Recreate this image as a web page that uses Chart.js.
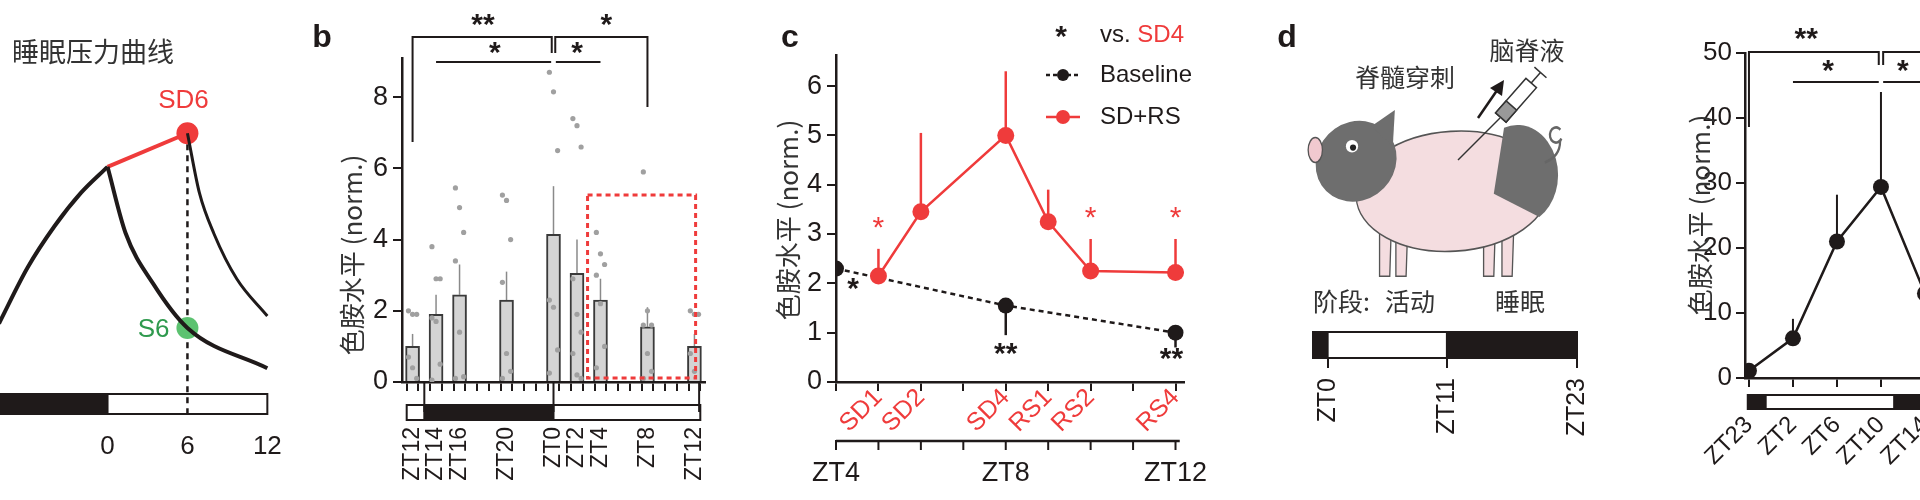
<!DOCTYPE html>
<html>
<head>
<meta charset="utf-8">
<script src="https://cdn.jsdelivr.net/npm/chart.js@4.4.1/dist/chart.umd.min.js"></script>
<style>
  html, body { margin: 0; padding: 0; background: #fff; overflow: hidden; width: 1920px; height: 500px; }
  canvas { position: absolute; left: 0; top: 0; }
  #chartA { left: -12px; }
</style>
</head>
<body>
<canvas id="chartA" width="1920" height="500"></canvas>
<canvas id="chartB" width="1920" height="500"></canvas>
<canvas id="chartC" width="1920" height="500"></canvas>
<canvas id="chartD" width="1920" height="500"></canvas>
<canvas id="chartE" width="2200" height="500"></canvas>
<script>
// ---- panel a: sleep pressure curves (hours, arbitrary pressure units)
const aWakeHours = [-8.15, -6, -4, -2, 0];
const aWakeP = [2.4, 3.9, 5.0, 5.9, 6.6];
const aSleepHours = [0, 1.36, 3.4, 6, 12];
const aSleepP = [6.6, 4.82, 3.48, 2.28, 1.2];
const aSdHours = [0, 6];
const aSdP = [6.6, 7.5];
const aRecHours = [6, 6.9, 8, 9.7, 12];
const aRecP = [7.5, 5.9, 4.8, 3.6, 2.6];
const aTicks = [0, 6, 12];
const aDark = [-8.15, 0];
const aLight = [0, 12];

// ---- panel b: bars, hours counted from ZT12
const bHours = [0, 2, 4, 8, 12, 14, 16, 20, 24];
const bLabels = ["ZT12", "ZT14", "ZT16", "ZT20", "ZT0", "ZT2", "ZT4", "ZT8", "ZT12"];
const bMeans = [1.0, 1.9, 2.45, 2.3, 4.15, 3.05, 2.3, 1.55, 1.0];
const bErrTop = [1.35, 2.45, 3.3, 3.1, 5.5, 4.0, 2.9, 2.1, 1.35];
const bDots = [
  [2.0, 1.9, 1.9, 0.7, 0.4, 0.1],
  [3.8, 2.9, 2.9, 1.8, 1.7, 0.5, 0.05],
  [5.45, 4.9, 4.2, 3.4, 1.4, 0.15, 0.1],
  [5.25, 5.1, 4.0, 2.8, 0.8, 0.3, 0.1],
  [8.7, 8.15, 6.5, 2.3, 2.1, 0.9, 0.25],
  [7.4, 7.2, 6.6, 2.9, 1.9, 1.4, 0.8, 0.2, 0.1],
  [4.2, 3.6, 3.3, 3.0, 2.2, 1.0, 0.4],
  [5.9, 2.0, 1.6, 1.6, 0.8, 0.3, 0.1],
  [2.0, 1.9, 1.9, 0.8, 0.3]
];
const bYTicks = [0, 2, 4, 6, 8];
const bDark = [1, 12];
const bLight = [[-0.5, 1], [12, 24.5]];

// ---- panel c
const cBaseHours = [4, 8, 12];
const cBase = [2.3, 1.55, 1.0];
const cBaseErrLow = [2.3, 0.95, 0.7];
const cSdHours = [5, 6, 8, 9, 10, 12];
const cSdLabels = ["SD1", "SD2", "SD4", "RS1", "RS2", "RS4"];
const cSd = [2.15, 3.45, 5.0, 3.25, 2.25, 2.22];
const cSdErrTop = [2.7, 5.05, 6.3, 3.9, 2.9, 2.9];
const cZtHours = [4, 8, 12];
const cZtLabels = ["ZT4", "ZT8", "ZT12"];

// ---- panel d
const dTicks = [0, 11, 23];
const dTickLabels = ["ZT0", "ZT11", "ZT23"];
const dDark = [[-1.35, 0], [11, 23]];
const dLight = [0, 11];

// ---- panel e
const eLabels = ["ZT23", "ZT2", "ZT6", "ZT10", "ZT14"];
const eValues = [1.1, 6.1, 21.0, 29.4, 13.0];
const eErrTop = [1.1, 9.1, 28.2, 44.0, 16.0];
const eYTicks = [0, 10, 20, 30, 40, 50];
const eDark = [[-0.05, 0.38], [3.3, 6]];
const eLight = [0.38, 3.3];

const FONT = '"Liberation Sans", Arial, "Noto Sans CJK SC", sans-serif';
const CJK = '"Noto Sans CJK SC", "Liberation Sans", sans-serif';
const RED = "#ef3b3b";
const INK = "#1f1a1a";

Chart.defaults.font.family = FONT;
Chart.defaults.color = INK;
Chart.defaults.animation = false;
Chart.defaults.devicePixelRatio = 1;
Chart.defaults.plugins.legend.display = false;
Chart.defaults.plugins.tooltip.enabled = false;

function fixW(w) { return (s) => { s.width = w; }; }
function fixH(h) { return (s) => { s.height = h; }; }
function setTicks(list) { return (s) => { s.ticks = list.map((v) => ({ value: v })); }; }

function text(ctx, str, x, y, opt) {
  ctx.save();
  ctx.font = opt.font;
  ctx.fillStyle = opt.color || INK;
  ctx.textAlign = opt.align || "center";
  ctx.textBaseline = "middle";
  if (opt.rot) {
    ctx.translate(x, y);
    ctx.rotate(opt.rot);
    ctx.fillText(str, 0, 0);
  } else ctx.fillText(str, x, y);
  ctx.restore();
}

function line(ctx, pts, w, color, dash) {
  ctx.save();
  ctx.strokeStyle = color || INK;
  ctx.lineWidth = w;
  ctx.setLineDash(dash || []);
  ctx.beginPath();
  pts.forEach((p, i) => (i ? ctx.lineTo(p[0], p[1]) : ctx.moveTo(p[0], p[1])));
  ctx.stroke();
  ctx.restore();
}

function ldBar(ctx, x, dark, light, top, bot) {
  ctx.save();
  ctx.lineWidth = 2;
  ctx.strokeStyle = INK;
  ctx.fillStyle = "#fff";
  light.forEach((s) => {
    const a = x.getPixelForValue(s[0]), b = x.getPixelForValue(s[1]);
    ctx.fillRect(a, top, b - a, bot - top);
    ctx.strokeRect(a, top, b - a, bot - top);
  });
  ctx.fillStyle = INK;
  dark.forEach((s) => {
    const a = x.getPixelForValue(s[0]), b = x.getPixelForValue(s[1]);
    ctx.fillRect(a, top - 1, b - a, bot - top + 2);
  });
  ctx.restore();
}

function pts(xs, ys) { return xs.map((x, i) => ({ x: x, y: ys[i] })); }

// ================= panel a
new Chart(document.getElementById("chartA"), {
  type: "scatter",
  data: {
    datasets: [
      { data: pts(aWakeHours, aWakeP), showLine: true, borderColor: INK, borderWidth: 4, pointRadius: 0, cubicInterpolationMode: "monotone" },
      { data: pts(aSleepHours, aSleepP), showLine: true, borderColor: INK, borderWidth: 4, pointRadius: 0, cubicInterpolationMode: "monotone" },
      { data: pts(aRecHours, aRecP), showLine: true, borderColor: INK, borderWidth: 3, pointRadius: 0, cubicInterpolationMode: "monotone" },
      { data: pts(aSdHours, aSdP), showLine: true, borderColor: RED, borderWidth: 4, pointRadius: 0 },
      { data: [{ x: aSdHours[1], y: aSdP[1] }], pointRadius: 11, backgroundColor: RED, borderWidth: 0 },
      { data: [{ x: aSleepHours[3], y: aSleepP[3] }], pointRadius: 11, backgroundColor: "#5cc270", borderWidth: 0 }
    ]
  },
  options: {
    responsive: false,
    layout: { padding: { left: 0, right: 1920 - 282, top: 40, bottom: 37 } },
    scales: {
      x: {
        type: "linear", min: -8.15, max: 12.2,
        afterBuildTicks: setTicks(aTicks), afterFit: fixH(50),
        grid: { display: false }, border: { display: false },
        ticks: { font: { size: 26 }, padding: 10, maxRotation: 0 }
      },
      y: { type: "linear", min: 0, max: 10, display: false }
    }
  },
  plugins: [{
    id: "aDeco",
    beforeDatasetsDraw(chart) {
      const { ctx, scales: { x, y } } = chart;
      const px = x.getPixelForValue(aSdHours[1]);
      ldBar(ctx, x, [aDark], [aLight], 394, 414);
      line(ctx, [[px, y.getPixelForValue(aSdP[1])], [px, 416]], 2.5, INK, [6, 5]);
    },
    afterDraw(chart) {
      const { ctx, scales: { x, y } } = chart;
      text(ctx, "睡眠压力曲线", 24, 52, { font: "27px " + CJK, align: "left", color: "#333" });
      text(ctx, "SD6", x.getPixelForValue(aSdHours[1]) - 4, 101, { font: "26px " + FONT, color: RED });
      text(ctx, "S6", x.getPixelForValue(aSleepHours[3]) - 18, y.getPixelForValue(aSleepP[3]) + 2, { font: "26px " + FONT, color: "#2f9a4e", align: "right" });
    }
  }]
});

// ================= panel b
const bDotPts = [];
bDots.forEach((arr, i) => arr.forEach((v, j) => bDotPts.push({ x: bHours[i] + (j % 3 - 1) * 0.35, y: v })));

new Chart(document.getElementById("chartB"), {
  data: {
    datasets: [
      { type: "bar", data: pts(bHours, bMeans), backgroundColor: "#d4d4d4", borderColor: "#3a3a3a", borderWidth: 2, barThickness: 14, order: 2 },
      { type: "scatter", data: bDotPts, pointRadius: 2.6, backgroundColor: "#a0a0a0", borderWidth: 0, order: 1 }
    ]
  },
  options: {
    responsive: false,
    layout: { padding: { left: 352, right: 1920 - 705, top: 58, bottom: 0 } },
    scales: {
      x: {
        type: "linear", min: -0.9, max: 24.9, offset: false,
        afterBuildTicks: setTicks(Array.from({ length: 25 }, (_, i) => i)), afterFit: fixH(118),
        grid: { display: true, drawOnChartArea: false, tickLength: 9, color: INK, lineWidth: 2 },
        border: { color: INK, width: 2.5 },
        ticks: {
          font: { size: 23 }, padding: 36, minRotation: 90, maxRotation: 90, autoSkip: false,
          callback: (v) => { const i = bHours.indexOf(v); return i < 0 ? "" : bLabels[i]; }
        }
      },
      y: {
        type: "linear", min: 0, max: 9.1, afterFit: fixW(50),
        afterBuildTicks: setTicks(bYTicks),
        grid: { display: true, drawOnChartArea: false, tickLength: 9, color: INK, lineWidth: 2 },
        border: { color: INK, width: 2.5 },
        ticks: { font: { size: 27 }, padding: 5 }
      }
    }
  },
  plugins: [{
    id: "bDeco",
    beforeDatasetsDraw(chart) {
      const { ctx, scales: { x, y } } = chart;
      bHours.forEach((h, i) => {
        const px = x.getPixelForValue(h);
        line(ctx, [[px, y.getPixelForValue(bMeans[i])], [px, y.getPixelForValue(bErrTop[i])]], 1.5, "#8a8a8a");
      });
    },
    afterDraw(chart) {
      const { ctx, scales: { x, y } } = chart;
      const X = (h) => x.getPixelForValue(h);
      const y0 = y.getPixelForValue(0);
      ldBar(ctx, x, [bDark], bLight, 405, 420);
      line(ctx, [[X(1), y0], [X(1), 412]], 2, INK);
      line(ctx, [[X(12), y0], [X(12), 412]], 2, INK);
      line(ctx, [[X(24.4), y0], [X(24.4), 412]], 2, INK);
      // red dashed box around the recovery points
      ctx.save();
      ctx.strokeStyle = RED; ctx.lineWidth = 3; ctx.setLineDash([5, 4]);
      ctx.strokeRect(X(14.9), y.getPixelForValue(5.25), X(24.1) - X(14.9), y0 - 4 - y.getPixelForValue(5.25));
      ctx.restore();
      // significance brackets
      line(ctx, [[X(0), 142], [X(0), 37], [X(11.85), 37], [X(11.85), 53]], 2, INK);
      line(ctx, [[X(12.15), 53], [X(12.15), 37], [X(20), 37], [X(20), 107]], 2, INK);
      line(ctx, [[X(2), 62], [X(11.8), 62]], 2, INK);
      line(ctx, [[X(12.2), 62], [X(16), 62]], 2, INK);
      const st = { font: "bold 30px " + FONT };
      text(ctx, "**", X(6), 26, st);
      text(ctx, "*", X(7), 54, st);
      text(ctx, "*", X(14), 54, st);
      text(ctx, "*", X(16.5), 26, st);
      text(ctx, "b", 322, 38, { font: "bold 32px " + FONT });
      text(ctx, "色胺水平 (norm.)", 352, 255, { font: "26px " + CJK, rot: -Math.PI / 2, color: "#333" });
    }
  }]
});

// ================= panel c
new Chart(document.getElementById("chartC"), {
  type: "scatter",
  data: {
    datasets: [
      { data: pts(cSdHours, cSd), showLine: true, borderColor: RED, borderWidth: 2.5, pointRadius: 8.5, backgroundColor: RED, pointBorderWidth: 0 },
      { data: pts(cBaseHours, cBase), showLine: true, borderColor: INK, borderWidth: 2.5, borderDash: [5, 4], pointRadius: 8, backgroundColor: INK, pointBorderWidth: 0 }
    ]
  },
  options: {
    responsive: false,
    layout: { padding: { left: 786, top: 55, bottom: 0, right: 1920 - 1184 } },
    scales: {
      x: {
        type: "linear", min: 4, max: 12.2,
        afterBuildTicks: setTicks([4, 5, 6, 7, 8, 9, 10, 11, 12]), afterFit: fixH(118),
        grid: { display: true, drawOnChartArea: false, tickLength: 9, color: INK, lineWidth: 2 },
        border: { color: INK, width: 2.5 },
        ticks: {
          font: { size: 25 }, color: RED, padding: -8, minRotation: 45, maxRotation: 45, autoSkip: false,
          callback: (v) => { const i = cSdHours.indexOf(v); return i < 0 ? "" : cSdLabels[i]; }
        }
      },
      y: {
        type: "linear", min: 0, max: 6.63, afterFit: fixW(50),
        afterBuildTicks: setTicks([0, 1, 2, 3, 4, 5, 6]),
        grid: { display: true, drawOnChartArea: false, tickLength: 9, color: INK, lineWidth: 2 },
        border: { color: INK, width: 2.5 },
        ticks: { font: { size: 27 }, padding: 5 }
      }
    }
  },
  plugins: [{
    id: "cDeco",
    beforeDatasetsDraw(chart) {
      const { ctx, scales: { x, y } } = chart;
      cSdHours.forEach((h, i) => {
        const px = x.getPixelForValue(h);
        line(ctx, [[px, y.getPixelForValue(cSd[i])], [px, y.getPixelForValue(cSdErrTop[i])]], 2.5, RED);
      });
      cBaseHours.forEach((h, i) => {
        const px = x.getPixelForValue(h);
        line(ctx, [[px, y.getPixelForValue(cBase[i])], [px, y.getPixelForValue(cBaseErrLow[i])]], 2.5, INK);
      });
    },
    afterDraw(chart) {
      const { ctx, scales: { x, y } } = chart;
      const X = (h) => x.getPixelForValue(h);
      // second time axis
      const ly = 441;
      line(ctx, [[X(4), ly], [X(12.1), ly]], 2.5, INK);
      [4, 5, 6, 7, 8, 9, 10, 11, 12].forEach((h) => line(ctx, [[X(h), ly - 1], [X(h), ly + 9]], 2, INK));
      cZtHours.forEach((h, i) => text(ctx, cZtLabels[i], X(h), 474, { font: "27px " + FONT }));
      const st = { font: "bold 30px " + FONT };
      text(ctx, "*", X(4) + 17, 290, st);
      text(ctx, "**", X(8), 355, st);
      text(ctx, "**", X(12) - 4, 360, st);
      const sr = { font: "30px " + FONT, color: RED };
      text(ctx, "*", X(5), y.getPixelForValue(cSdErrTop[0]) - 20, sr);
      text(ctx, "*", X(10), y.getPixelForValue(cSdErrTop[4]) - 20, sr);
      text(ctx, "*", X(12), y.getPixelForValue(cSdErrTop[5]) - 20, sr);
      text(ctx, "c", 790, 38, { font: "bold 32px " + FONT });
      text(ctx, "色胺水平 (norm.)", 788, 220, { font: "26px " + CJK, rot: -Math.PI / 2, color: "#333" });
      // legend
      text(ctx, "*", 1061, 38, { font: "bold 30px " + FONT });
      ctx.save();
      ctx.font = "24px " + FONT; ctx.textBaseline = "middle"; ctx.fillStyle = INK;
      ctx.fillText("vs. ", 1100, 35);
      ctx.fillStyle = RED;
      ctx.fillText("SD4", 1100 + ctx.measureText("vs. ").width, 35);
      ctx.fillStyle = INK;
      ctx.fillText("Baseline", 1100, 75);
      ctx.fillText("SD+RS", 1100, 117);
      ctx.restore();
      line(ctx, [[1046, 75], [1080, 75]], 2.5, INK, [4, 3]);
      line(ctx, [[1046, 117], [1080, 117]], 2.5, RED);
      ctx.save();
      ctx.fillStyle = INK; ctx.beginPath(); ctx.arc(1063, 75, 6, 0, 7); ctx.fill();
      ctx.fillStyle = RED; ctx.beginPath(); ctx.arc(1063, 117, 7, 0, 7); ctx.fill();
      ctx.restore();
    }
  }]
});

// ================= panel d (schematic + phase bar)
function drawPig(ctx) {
  ctx.save();
  ctx.translate(1300, 105);
  ctx.scale(1.02, 1.25);
  ctx.translate(-1305, -129);
  ctx.lineWidth = 1.3;
  ctx.strokeStyle = "#555";
  // legs
  ctx.fillStyle = "#f4dde0";
  [[1388, 228], [1404, 232], [1490, 228], [1508, 232]].forEach((p) => {
    ctx.beginPath(); ctx.moveTo(p[0] - 5, p[1] - 15); ctx.lineTo(p[0] - 5, 266); ctx.lineTo(p[0] + 5, 266); ctx.lineTo(p[0] + 7, p[1] - 15); ctx.closePath(); ctx.fill(); ctx.stroke();
  });
  // body
  ctx.beginPath(); ctx.ellipse(1455, 198, 95, 48, -0.05, 0, Math.PI * 2); ctx.fill(); ctx.stroke();
  // rump patch
  ctx.fillStyle = "#6e6e6e";
  ctx.beginPath(); ctx.ellipse(1518, 185, 40, 40, 0, -1.9, 1.0); ctx.lineTo(1495, 200); ctx.closePath(); ctx.fill();
  // head
  ctx.beginPath(); ctx.ellipse(1360, 174, 40, 32, -0.2, 0, Math.PI * 2); ctx.fill();
  ctx.beginPath(); ctx.moveTo(1375, 146); ctx.lineTo(1398, 133); ctx.lineTo(1396, 162); ctx.closePath(); ctx.fill();
  // snout
  ctx.fillStyle = "#f1c9cf";
  ctx.beginPath(); ctx.ellipse(1320, 165, 7, 10, 0, 0, Math.PI * 2); ctx.fill(); ctx.stroke();
  // eye
  ctx.fillStyle = "#fff";
  ctx.beginPath(); ctx.ellipse(1356, 162, 6, 5, 0, 0, 7); ctx.fill();
  ctx.fillStyle = "#222";
  ctx.beginPath(); ctx.ellipse(1357, 163, 3, 2.5, 0, 0, 7); ctx.fill();
  // tail
  ctx.strokeStyle = "#666"; ctx.lineWidth = 2.2;
  ctx.beginPath(); ctx.moveTo(1545, 175); ctx.quadraticCurveTo(1560, 170, 1560, 158); ctx.arc(1556, 153, 6, 0.5, 5.5); ctx.stroke();
  ctx.restore();
  // syringe
  ctx.save();
  line(ctx, [[1458, 160], [1500, 118]], 1.5, "#333");
  ctx.translate(1518, 98); ctx.rotate(-0.85);
  ctx.fillStyle = "#fff"; ctx.strokeStyle = "#333"; ctx.lineWidth = 1.5;
  ctx.fillRect(-26, -7, 46, 14); ctx.strokeRect(-26, -7, 46, 14);
  ctx.fillStyle = "#999"; ctx.fillRect(-26, -7, 16, 14); ctx.strokeRect(-26, -7, 16, 14);
  line(ctx, [[20, 0], [34, 0]], 1.5, "#333");
  line(ctx, [[34, -8], [34, 8]], 1.5, "#333");
  ctx.restore();
  // arrow
  line(ctx, [[1478, 118], [1500, 86]], 2.5, INK);
  ctx.save(); ctx.fillStyle = INK; ctx.beginPath(); ctx.moveTo(1504, 80); ctx.lineTo(1490, 88); ctx.lineTo(1502, 96); ctx.closePath(); ctx.fill(); ctx.restore();
}

new Chart(document.getElementById("chartD"), {
  type: "scatter",
  data: { datasets: [{ data: [] }] },
  options: {
    responsive: false,
    layout: { padding: { left: 1313, right: 1920 - 1577, top: 332, bottom: 0 } },
    scales: {
      x: {
        type: "linear", min: -1.35, max: 23,
        afterBuildTicks: setTicks(dTicks), afterFit: fixH(142),
        grid: { display: true, drawOnChartArea: false, tickLength: 10, color: INK, lineWidth: 2 },
        border: { display: false },
        ticks: { font: { size: 25 }, padding: 10, minRotation: 90, maxRotation: 90, callback: (v) => dTickLabels[dTicks.indexOf(v)] }
      },
      y: { min: 0, max: 1, display: false }
    }
  },
  plugins: [{
    id: "dDeco",
    afterDraw(chart) {
      const { ctx, scales: { x }, chartArea } = chart;
      ldBar(ctx, x, dDark, [dLight], chartArea.top, chartArea.bottom);
      ctx.save(); ctx.strokeStyle = INK; ctx.lineWidth = 2;
      ctx.strokeRect(x.getPixelForValue(-1.35), chartArea.top, x.getPixelForValue(23) - x.getPixelForValue(-1.35), chartArea.bottom - chartArea.top);
      ctx.restore();
      drawPig(ctx);
      const cj = { font: "25px " + CJK, color: "#333" };
      text(ctx, "脊髓穿刺", 1405, 77, cj);
      text(ctx, "脑脊液", 1527, 50, cj);
      text(ctx, "阶段:", 1313, 301, { font: "25px " + CJK, color: "#333", align: "left" });
      text(ctx, "活动", 1410, 301, cj);
      text(ctx, "睡眠", 1520, 301, cj);
      text(ctx, "d", 1287, 38, { font: "bold 32px " + FONT });
    }
  }]
});

// ================= panel e
const eIdx = eLabels.map((_, i) => i);
new Chart(document.getElementById("chartE"), {
  type: "scatter",
  data: {
    datasets: [
      { data: pts(eIdx, eValues), showLine: true, borderColor: INK, borderWidth: 2.5, pointRadius: 8, backgroundColor: INK, pointBorderWidth: 0 }
    ]
  },
  options: {
    responsive: false,
    layout: { padding: { left: 1695, right: 60, top: 53, bottom: 0 } },
    scales: {
      x: {
        type: "linear", min: -0.09, max: (2140 - 1745) / 44 - 0.09,
        afterBuildTicks: setTicks(eIdx), afterFit: fixH(122),
        grid: { display: true, drawOnChartArea: false, tickLength: 9, color: INK, lineWidth: 2 },
        border: { color: INK, width: 2.5 },
        ticks: { font: { size: 24 }, padding: 24, minRotation: 45, maxRotation: 45, callback: (v) => eLabels[v] }
      },
      y: {
        type: "linear", min: 0, max: 50, afterFit: fixW(50),
        afterBuildTicks: setTicks(eYTicks),
        grid: { display: true, drawOnChartArea: false, tickLength: 9, color: INK, lineWidth: 2 },
        border: { color: INK, width: 2.5 },
        ticks: { font: { size: 26 }, padding: 4 }
      }
    }
  },
  plugins: [{
    id: "eDeco",
    beforeDatasetsDraw(chart) {
      const { ctx, scales: { x, y } } = chart;
      eIdx.forEach((i) => {
        const px = x.getPixelForValue(i);
        line(ctx, [[px, y.getPixelForValue(eValues[i])], [px, y.getPixelForValue(eErrTop[i])]], 2, INK);
      });
    },
    afterDraw(chart) {
      const { ctx, scales: { x } } = chart;
      const X = (i) => x.getPixelForValue(i);
      ldBar(ctx, x, eDark, [eLight], 395, 409);
      line(ctx, [[X(0), 127], [X(0), 52], [X(2.95), 52], [X(2.95), 65]], 2, INK);
      line(ctx, [[X(3.05), 65], [X(3.05), 52], [X(5), 52]], 2, INK);
      line(ctx, [[X(1), 82], [X(2.95), 82]], 2, INK);
      line(ctx, [[X(3.05), 82], [X(5), 82]], 2, INK);
      const st = { font: "bold 30px " + FONT };
      text(ctx, "**", X(1.3), 40, st);
      text(ctx, "*", X(1.8), 72, st);
      text(ctx, "*", X(3.5), 72, st);
      text(ctx, "色胺水平 (norm.)", 1700, 215, { font: "26px " + CJK, rot: -Math.PI / 2, color: "#333" });
    }
  }]
});
</script>
</body>
</html>
